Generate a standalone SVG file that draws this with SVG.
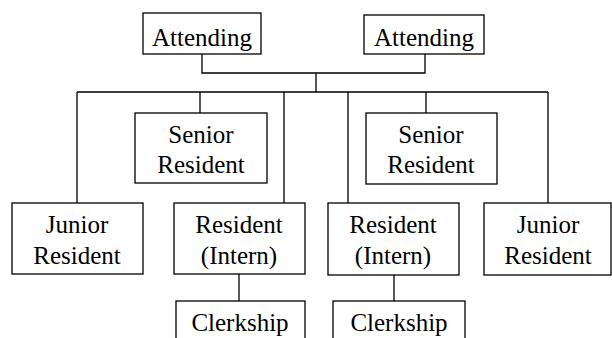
<svg xmlns="http://www.w3.org/2000/svg" width="612" height="338" viewBox="0 0 612 338">
<style>
rect{fill:#fff;stroke:#000;stroke-width:1.3}
text{font-size:25px;fill:#000;text-anchor:middle}
.c{fill:none;stroke:#000;stroke-width:1.3}
</style>
<rect x="0" y="0" width="612" height="338" style="stroke:none"/>
<g id="connectors">
<path class="c" d="M202 54V73H425V54M316 73V92M77 92H548M77 92V203M200 92V113M284 92V203M348 92V203M426 92V113M548 92V203M239 274V301M394 275V301"/>
</g>
<g font-family="Liberation Serif, DejaVu Serif, serif">
<g id="att1"><rect x="143" y="13" width="118" height="41"/><text x="202" y="46">Attending</text></g>
<g id="att2"><rect x="364" y="15" width="120" height="39"/><text x="424" y="46">Attending</text></g>
<g id="sen1"><rect x="135" y="113" width="132" height="70"/><text x="201" y="143">Senior</text><text x="201" y="173">Resident</text></g>
<g id="sen2"><rect x="366" y="113" width="131" height="71"/><text x="431" y="143">Senior</text><text x="431" y="173">Resident</text></g>
<g id="jun1"><rect x="12" y="203" width="131" height="71"/><text x="77" y="233">Junior</text><text x="77" y="264">Resident</text></g>
<g id="res1"><rect x="174" y="203" width="131" height="71"/><text x="239" y="233">Resident</text><text x="239" y="264">(Intern)</text></g>
<g id="res2"><rect x="328" y="203" width="131" height="72"/><text x="393" y="233">Resident</text><text x="393" y="264">(Intern)</text></g>
<g id="jun2"><rect x="484" y="203" width="127" height="72"/><text x="548" y="233">Junior</text><text x="548" y="264">Resident</text></g>
<g id="clk1"><rect x="176" y="301" width="129" height="45"/><text x="240" y="331">Clerkship</text></g>
<g id="clk2"><rect x="333" y="301" width="132" height="45"/><text x="399" y="331">Clerkship</text></g>
</g>
</svg>
